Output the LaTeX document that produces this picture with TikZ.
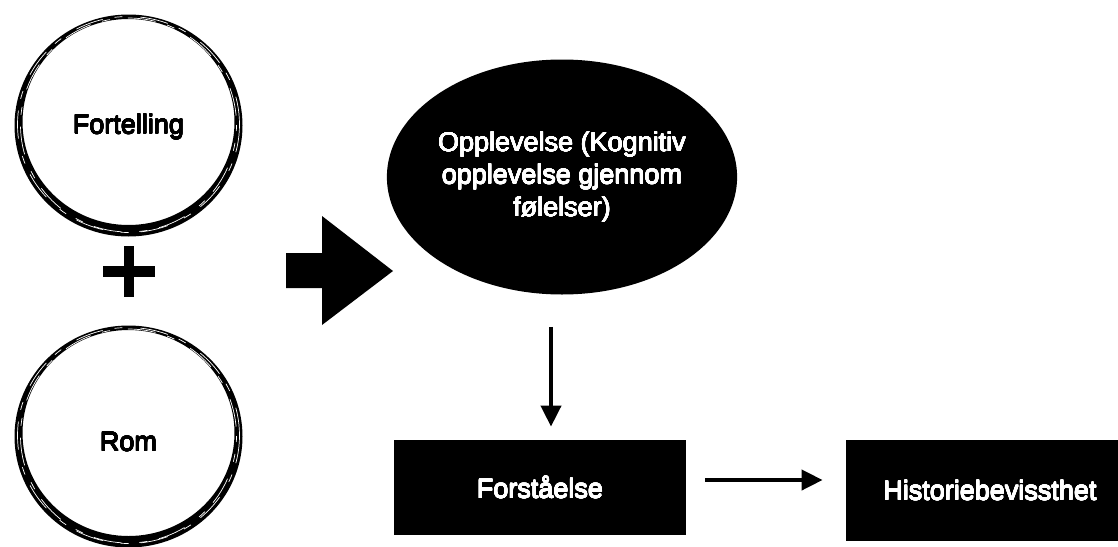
\documentclass[tikz,border=0pt]{standalone}
\usepackage{fontspec}
\newfontfamily\labelfont{Liberation Sans}
\usepackage[copies]{contour}
\contourlength{0.14pt}
\contournumber{16}
\usetikzlibrary{arrows.meta,positioning,calc,shapes.geometric}

\begin{document}
\begin{tikzpicture}[x=0.5pt, y=-0.5pt, >={Triangle[length=10.5pt,width=10pt]},
  every label node/.style={font=\labelfont\fontsize{13.5}{16.25}\selectfont},
  dark box/.style={every label node, fill=black, text=white, inner sep=0pt},
  ring/.style={fill=black, even odd rule},
  streak/.style={white, line width=0.35pt, dash pattern=on 14pt off 6pt on 4pt off 9pt},
  link/.style={->, line width=2pt}]

\useasboundingbox (0,0) rectangle (1118,546);

% inputs
\foreach \n/\t/\y in {fortelling/Fortelling/127, rom/Rom/442}
  \node [every label node] (\n) at (128.5,\y) {\contour{black}{\t}};

% brush rings round the inputs
\foreach \n/\c in {fortelling/-1.5, rom/-5.5} {
  \fill [ring] ($(\n)+(0,\c)$) ellipse [x radius=114, y radius=111]
               ($(\n)+(0,\c-3.5)$) ellipse [x radius=106, y radius=103];
  \draw [streak] ($(\n)+(0,\c-1)$) ellipse [x radius=111, y radius=108];
  \draw [streak, dash phase=11pt] ($(\n)+(0,\c-0.5)$) ellipse [x radius=108, y radius=107];
}

% plus
\fill (103,266) rectangle (155,277);
\fill (124,246) rectangle (134,297);

% big arrow
\fill (286,253) -- (322,253) -- (322,216) -- (393,271) -- (322,325)
  -- (322,288) -- (286,288) -- cycle;

% outcome
\node [dark box, ellipse, minimum width=150pt, minimum height=117.5pt,
  align=center] (opplevelse) at (562,177)
  {\contour{white}{Opplevelse (Kognitiv}\\\contour{white}{opplevelse gjennom}\\\contour{white}{følelser)}};

\node [dark box, minimum width=146pt, minimum height=47.5pt]
  (forstaaelse) at (540,487.5) {\contour{white}{Forståelse}};
\node [dark box, minimum width=144pt, minimum height=50.5pt]
  (historie) at (990,490.5) {\contour{white}{Historiebevissthet}};

% connectors
\coordinate (down) at ($(opplevelse.south)!0.5!(forstaaelse.north)$);
\draw [link, shorten <=16pt, shorten >=6.5pt]
  (down |- opplevelse.south) -- (down |- forstaaelse.north);

\draw [link, shorten <=9.5pt, shorten >=11.5pt]
  ([yshift=3.75pt]forstaaelse.east) -- ([yshift=3.75pt]forstaaelse.east -| historie.west);

\end{tikzpicture}
\end{document}
